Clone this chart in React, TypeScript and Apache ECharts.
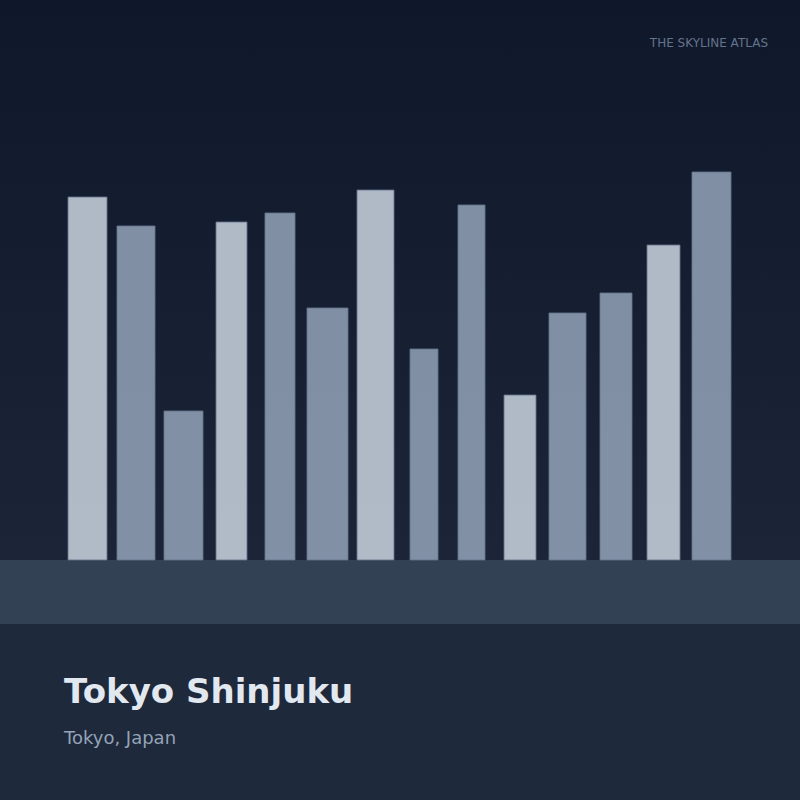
import React, { useEffect, useRef } from "react";
import * as echarts from "echarts";

const buildingStarts = [68, 117, 164, 216, 265, 307, 357, 410, 458, 504, 549, 600, 647, 692];
const buildingWidths = [39, 38, 39, 31, 30, 41, 37, 28, 27, 32, 37, 32, 33, 39];
const buildingHeights = [363, 334, 149, 338, 347, 252, 370, 211, 355, 165, 247, 267, 315, 388];
const title = "Tokyo Shinjuku";
const subtitle = "Tokyo, Japan";
const brand = "THE SKYLINE ATLAS";

export default function App() {
  const ref = useRef<HTMLDivElement>(null);
  useEffect(() => {
    document.body.style.margin = "0";
    const chart = echarts.init(ref.current!, null, { renderer: "svg" });
    const data = buildingStarts.map((s, i) => [s, buildingWidths[i], buildingHeights[i], i]);
    chart.setOption({
      animation: false,
      backgroundColor: "#1e293b",
      grid: { left: 0, right: 0, top: 0, height: 560 },
      xAxis: { type: "value", min: 0, max: 800, show: false },
      yAxis: { type: "value", min: 0, max: 560, show: false },
      graphic: [
        {
          type: "rect",
          z: -10,
          silent: true,
          shape: { x: 0, y: 0, width: 800, height: 560 },
          style: {
            fill: new echarts.graphic.LinearGradient(0, 0, 0, 1, [
              { offset: 0, color: "#0f172a" },
              { offset: 1, color: "#1c2437" },
            ]),
          },
        },
        {
          type: "rect",
          silent: true,
          shape: { x: 0, y: 560, width: 800, height: 64 },
          style: { fill: "#334155" },
        },
        {
          type: "text",
          right: 32,
          top: 37,
          style: {
            text: brand,
            fill: "#64748b",
            font: "12px 'DejaVu Sans'",
          },
        },
        {
          type: "text",
          left: 64,
          top: 674,
          style: {
            text: title,
            fill: "#e2e8f0",
            font: "bold 34px 'DejaVu Sans'",
          },
        },
        {
          type: "text",
          left: 64,
          top: 728,
          style: {
            text: subtitle,
            fill: "#94a3b8",
            font: "18px 'DejaVu Sans'",
          },
        },
      ],
      series: [
        {
          type: "custom",
          data,
          renderItem: (params: any, api: any) => {
            const x0 = api.value(0);
            const w = api.value(1);
            const h = api.value(2);
            const idx = api.value(3);
            const p0 = api.coord([x0, 0]);
            const p1 = api.coord([x0 + w, h]);
            const light = idx % 3 === 0;
            return {
              type: "rect",
              shape: { x: p0[0], y: p1[1], width: p1[0] - p0[0], height: p0[1] - p1[1] },
              style: {
                fill: light ? "#cbd5e1" : "#94a3b8",
                opacity: 0.85,
                stroke: "#64748b",
                lineWidth: 1,
              },
            };
          },
        },
      ],
    });
    return () => chart.dispose();
  }, []);
  return <div ref={ref} style={{ width: 800, height: 800, position: "absolute", left: 0, top: 0 }} />;
}
